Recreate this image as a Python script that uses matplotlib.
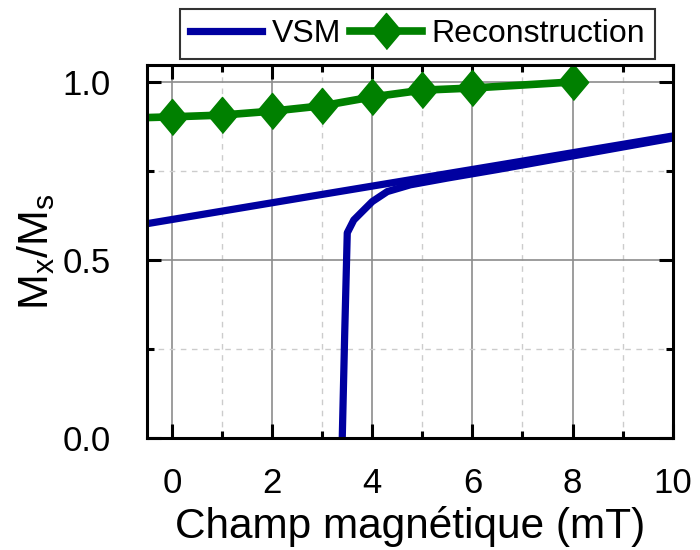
import matplotlib
matplotlib.use("Agg")
import matplotlib.pyplot as plt
from matplotlib.ticker import MultipleLocator

plt.rcParams["font.family"] = ["Liberation Sans", "DejaVu Sans"]

# --------------------------------------------------------------------------- #
# Data
# --------------------------------------------------------------------------- #
# VSM loop: descending (upper) branch and ascending (lower) branch
vsm_up_h = [-1.0, 2.57, 6.55, 10.5]
vsm_up_m = [0.590, 0.674, 0.767, 0.860]
vsm_lo_h = [3.39, 3.40, 3.45, 3.50, 3.63, 3.80, 4.0, 4.3, 4.76, 5.5, 6.5, 8.0, 10.5]
vsm_lo_m = [-0.05, 0.0, 0.30, 0.576, 0.612, 0.636, 0.664, 0.692, 0.711, 0.730, 0.754, 0.792, 0.855]

# Reconstruction (first point lies left of the visible range)
rec_h = [-1, 0, 1, 2, 3, 4, 5, 6, 8]
rec_m = [0.898, 0.902, 0.907, 0.918, 0.933, 0.958, 0.977, 0.983, 1.0]

X_MAJOR = [0, 2, 4, 6, 8, 10]
X_MINOR = [1, 3, 5, 7, 9]
Y_MAJOR = [0.0, 0.5, 1.0]
Y_MINOR = [0.25, 0.75]

BLUE = "#0000a0"
GREEN = "#008000"
DIAMOND = [(-0.42, 0), (0, 0.5), (0.42, 0), (0, -0.5)]

fig = plt.figure(figsize=(7, 5.5), dpi=100)
ax = fig.add_axes([0.21, 0.204, 0.751, 0.678])

# grid drawn by hand so it stays under the curves while ticks stay on top
for x in X_MAJOR:
    ax.axvline(x, color="#8c8c8c", lw=1.2, zorder=1)
for x in X_MINOR:
    ax.axvline(x, color="#cccccc", lw=1.0, ls=(0, (4, 4)), zorder=1)
for y in Y_MAJOR:
    ax.axhline(y, color="#8c8c8c", lw=1.2, zorder=1)
for y in Y_MINOR:
    ax.axhline(y, color="#cccccc", lw=1.0, ls=(0, (4, 4)), zorder=1)

ax.plot(vsm_up_h, vsm_up_m, color=BLUE, lw=5.2, label="VSM", zorder=2)
ax.plot(vsm_lo_h, vsm_lo_m, color=BLUE, lw=5.2, zorder=2)
ax.plot(rec_h, rec_m, color=GREEN, lw=5.5, marker=DIAMOND, ms=26,
        label="Reconstruction", zorder=2)

ax.set_xlim(-0.5, 10)
ax.set_ylim(0, 1.048)
ax.xaxis.set_major_locator(MultipleLocator(2))
ax.xaxis.set_minor_locator(MultipleLocator(1))
ax.yaxis.set_major_locator(MultipleLocator(0.5))
ax.yaxis.set_minor_locator(MultipleLocator(0.25))
ax.yaxis.set_major_formatter(lambda v, p: f"{v:.1f}")
ax.tick_params(which="both", direction="in", top=True, right=True,
               labelsize=25, width=2.2)
ax.tick_params(which="major", length=10)
ax.tick_params(which="minor", length=5)
ax.tick_params(axis="x", which="major", pad=21)
ax.tick_params(axis="y", which="major", pad=26)
for s in ax.spines.values():
    s.set_linewidth(2.2)

ax.set_xlabel("Champ magnétique (mT)", fontsize=30.5, labelpad=4)
ax.set_ylabel(r"M$_\mathregular{x}$/M$_\mathregular{s}$", fontsize=31, labelpad=4)

leg = ax.legend(loc="lower center", bbox_to_anchor=(0.515, 1.0), ncol=2,
                fontsize=23, frameon=True, fancybox=False, edgecolor="black",
                borderpad=0.3, handlelength=2.25, handletextpad=0.3,
                columnspacing=0.3, borderaxespad=0.2)
leg.get_frame().set_linewidth(1.5)

fig.savefig("out.png", dpi=100)
